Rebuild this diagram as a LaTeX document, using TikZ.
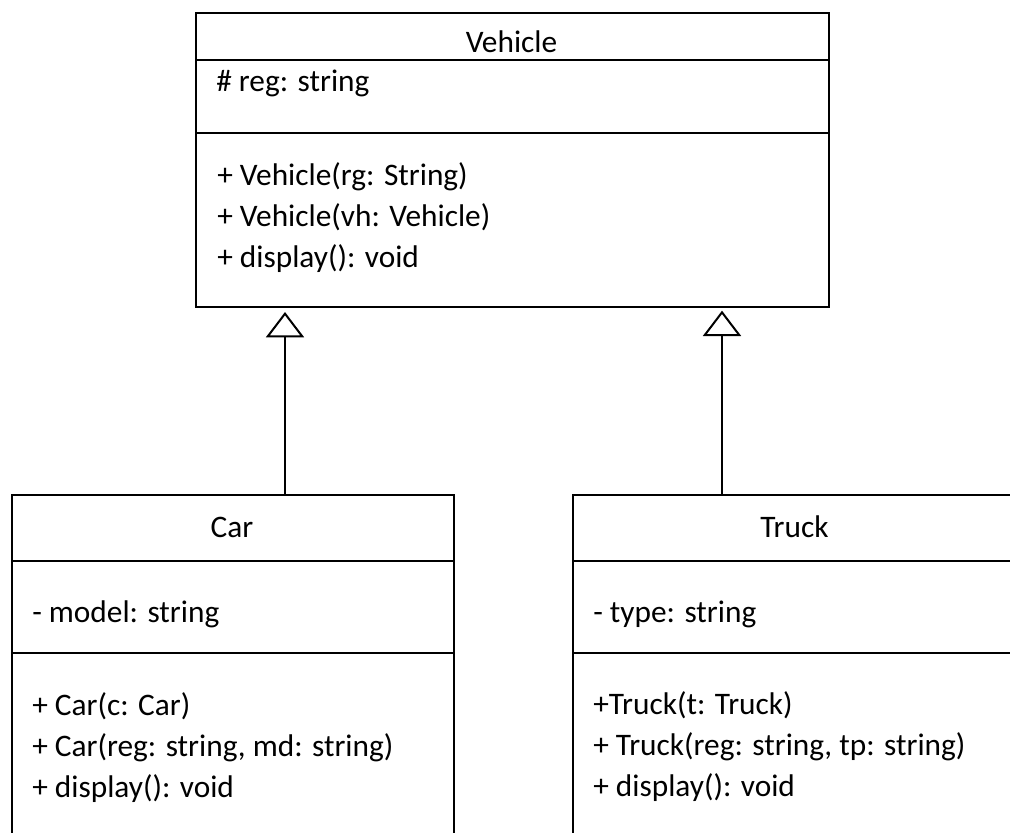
\documentclass[tikz,border=0pt]{standalone}
\usepackage{fontspec}
\setmainfont{Carlito}
\usetikzlibrary{arrows.meta}
\tikzset{
  classbox/.style={draw, line width=1.5pt, inner sep=0pt, anchor=north west},
  sep/.style={line width=1.5pt},
  txt/.style={inner sep=0pt, anchor=base west, font=\fontsize{23.5}{28}\selectfont},
  ttl/.style={inner sep=0pt, anchor=base, font=\fontsize{23.5}{28}\selectfont},
  inherit/.style={line width=1.5pt, -{Triangle[open, length=19pt, width=28.5pt, line width=1.5pt]}}
}
\begin{document}
\begin{tikzpicture}[x=0.75pt, y=-0.75pt]
\clip (0,0) rectangle (1010,832);
\fill[white] (0,0) rectangle (1010,832);
% Vehicle
\node[classbox, minimum width=474.75pt, minimum height=220.5pt] (vehicle) at (195,12) {};
\draw[sep] (vehicle.west |- 0,60) -- (vehicle.east |- 0,60);
\draw[sep] (vehicle.west |- 0,133) -- (vehicle.east |- 0,133);
\node[ttl] (vtitle) at (511.5,52) {Vehicle};
\node[txt] (vattr) at (216,91) {\# reg: string};
\node[txt] (vm1) at (217,185) {+ Vehicle(rg: String)};
\node[txt] (vm2) at (217,226) {+ Vehicle(vh: Vehicle)};
\node[txt] (vm3) at (217,267) {+ display(): void};
% Car
\node[classbox, minimum width=331.5pt, minimum height=262.5pt] (car) at (11,494) {};
\draw[sep] (car.west |- 0,561) -- (car.east |- 0,561);
\draw[sep] (car.west |- 0,653) -- (car.east |- 0,653);
\node[ttl] (ctitle) at (232,537) {Car};
\node[txt] (cattr) at (32,622) {- model: string};
\node[txt] (cm1) at (32,715) {+ Car(c: Car)};
\node[txt] (cm2) at (32,756) {+ Car(reg: string, md: string)};
\node[txt] (cm3) at (32,797) {+ display(): void};
% Truck
\node[classbox, minimum width=333.75pt, minimum height=262.5pt] (truck) at (572,494) {};
\draw[sep] (truck.west |- 0,561) -- (truck.east |- 0,561);
\draw[sep] (truck.west |- 0,653) -- (truck.east |- 0,653);
\node[ttl] (ttitle) at (794.5,537) {Truck};
\node[txt] (tattr) at (593,622) {- type: string};
\node[txt] (tm1) at (593,714) {+Truck(t: Truck)};
\node[txt] (tm2) at (593,755) {+ Truck(reg: string, tp: string)};
\node[txt] (tm3) at (593,796) {+ display(): void};
% Inheritance
\draw[inherit, shorten >=3pt] (car.north -| 285,0) -- (vehicle.south -| 285,0);
\draw[inherit, shorten >=2pt] (truck.north -| 722,0) -- (vehicle.south -| 722,0);
\end{tikzpicture}
\end{document}
